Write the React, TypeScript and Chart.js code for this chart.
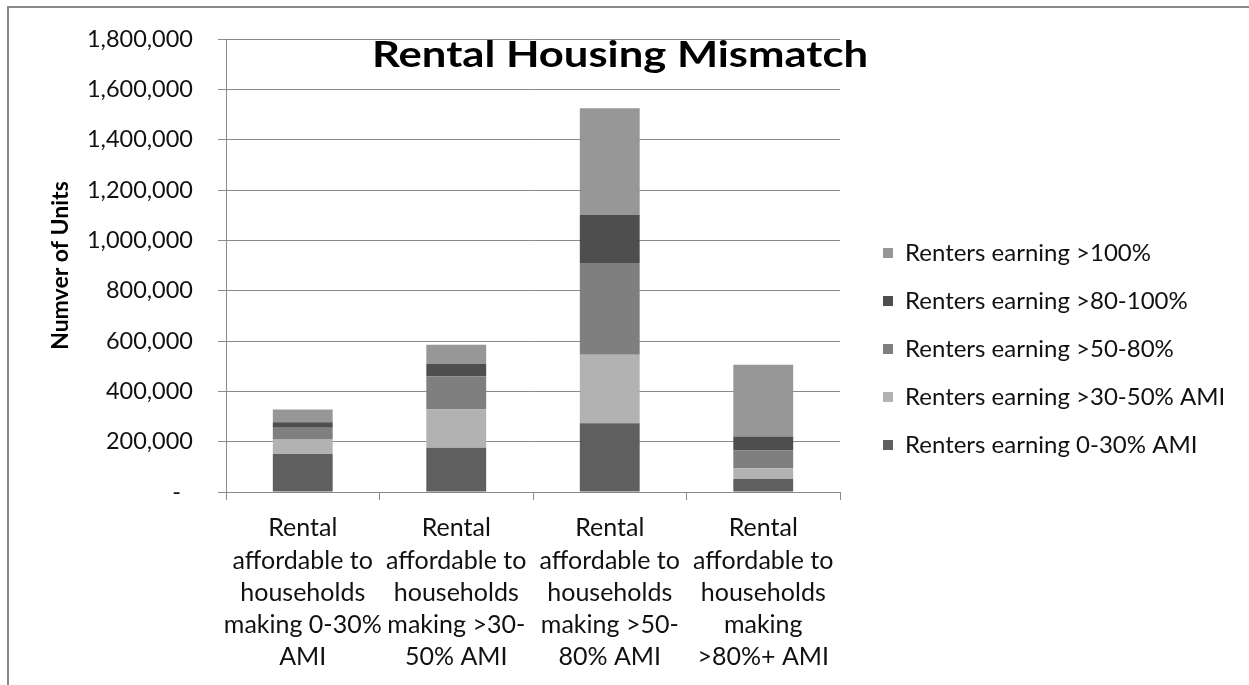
import React, { useEffect, useRef } from "react";
import { Chart, registerables } from "chart.js";

Chart.register(...registerables);

const TITLE = "Rental Housing Mismatch";
const Y_TITLE = "Numver of Units";

const categories: string[][] = [
  ["Rental", "affordable to", "households", "making 0-30%", "AMI"],
  ["Rental", "affordable to", "households", "making >30-", "50% AMI"],
  ["Rental", "affordable to", "households", "making >50-", "80% AMI"],
  ["Rental", "affordable to", "households", "making", ">80%+ AMI"],
];

const seriesNames = [
  "Renters earning 0-30% AMI",
  "Renters earning >30-50% AMI",
  "Renters earning >50-80%",
  "Renters earning >80-100%",
  "Renters earning >100%",
];

const renters0to30 = [150700, 175600, 273000, 52100];
const renters30to50 = [60400, 152700, 272200, 41800];
const renters50to80 = [44600, 131400, 365400, 71000];
const renters80to100 = [21300, 50100, 191000, 55300];
const renters100plus = [51300, 75000, 423400, 285700];

const seriesColors = ["#5f5f5f", "#b2b2b2", "#7f7f7f", "#4e4e4e", "#979797"];

const Y_MIN = 0;
const Y_MAX = 1800000;
const Y_STEP = 200000;

const FONT = "Lato, 'Open Sans', sans-serif";
const GRID = "#8a8a8a";
const TEXT = "#111111";

export default function App() {
  const ref = useRef<HTMLCanvasElement | null>(null);

  useEffect(() => {
    if (!ref.current) return;

    const legendFix = {
      id: "legendFix",
      afterInit(chart: any) {
        const lg = chart.legend;
        if (!lg || lg.__patched) return;
        const orig = lg.fit.bind(lg);
        lg.fit = function () {
          orig();
          this.width = 390;
        };
        lg.__patched = true;
      },
    };

    const titlePlugin = {
      id: "overlayTitle",
      afterDraw(chart: any) {
        const ctx = chart.ctx;
        ctx.save();
        ctx.font = `bold 37px ${FONT}`;
        ctx.fillStyle = "#000";
        ctx.textAlign = "center";
        ctx.textBaseline = "alphabetic";
        const w = ctx.measureText(TITLE).width;
        const sx = 496 / w;
        ctx.translate(620, 66.5);
        ctx.scale(sx, 1);
        ctx.fillText(TITLE, 0, 0);
        ctx.restore();
      },
    };

    const data = [renters0to30, renters30to50, renters50to80, renters80to100, renters100plus];

    const chart = new Chart(ref.current, {
      type: "bar",
      data: {
        labels: categories,
        datasets: data.map((d, i) => ({
          label: seriesNames[i],
          data: d,
          backgroundColor: seriesColors[i],
          borderWidth: 0,
          barPercentage: 0.39,
          categoryPercentage: 1,
        })),
      },
      options: {
        responsive: false,
        animation: false,
        devicePixelRatio: 1,
        layout: { padding: { top: 13, left: 0, right: 0, bottom: 0 } },
        plugins: {
          legend: {
            position: "right",
            align: "center",
            reverse: true,
            labels: {
              boxWidth: 10,
              boxHeight: 10,
              padding: 24,
              color: TEXT,
              font: { family: FONT, size: 24 },
            },
          },
          tooltip: { enabled: false },
          title: { display: false },
        },
        scales: {
          x: {
            stacked: true,
            grid: {
              offset: true,
              drawOnChartArea: false,
              drawTicks: true,
              tickLength: 8,
              color: GRID,
            },
            border: { color: GRID },
            ticks: {
              maxRotation: 0,
              minRotation: 0,
              autoSkip: false,
              padding: 12,
              color: TEXT,
              font: { family: FONT, size: 25, lineHeight: 1.292 },
            },
            afterFit: (s: any) => {
              s.height = 193;
            },
          },
          y: {
            stacked: true,
            min: Y_MIN,
            max: Y_MAX,
            ticks: {
              stepSize: Y_STEP,
              padding: 25,
              color: TEXT,
              font: { family: FONT, size: 23.5 },
              callback: (v: any) => (Number(v) === 0 ? "-  " : Number(v).toLocaleString("en-US")),
            },
            grid: { color: GRID, tickLength: 8 },
            border: { color: GRID },
            title: {
              display: true,
              text: Y_TITLE,
              color: "#000",
              font: { family: FONT, size: 23, weight: "bold" },
              padding: { top: 47, bottom: 0 },
            },
            afterFit: (s: any) => {
              s.width = 226;
            },
          },
          topPad: {
            type: "linear",
            position: "top",
            display: true,
            grid: { display: false },
            border: { display: false },
            ticks: { display: false },
            afterFit: (s: any) => {
              s.height = 24;
            },
          },
          rightPad: {
            type: "linear",
            position: "right",
            display: true,
            grid: { display: false },
            border: { display: false },
            ticks: { display: false },
            afterFit: (s: any) => {
              s.width = 19;
            },
          },
        },
      } as any,
      plugins: [legendFix, titlePlugin],
    });

    return () => chart.destroy();
  }, []);

  return (
    <div
      style={{
        position: "fixed",
        left: 0,
        top: 0,
        width: 1249,
        height: 685,
        background: "#fff",
        overflow: "hidden",
      }}
    >
      <canvas ref={ref} width={1249} height={685} style={{ position: "absolute", left: 0, top: 0 }} />
      <div
        style={{
          position: "absolute",
          left: 7,
          top: 6,
          width: 1249,
          height: 700,
          borderTop: "2px solid #8a8a8a",
          borderLeft: "2px solid #8a8a8a",
          pointerEvents: "none",
        }}
      />
    </div>
  );
}
